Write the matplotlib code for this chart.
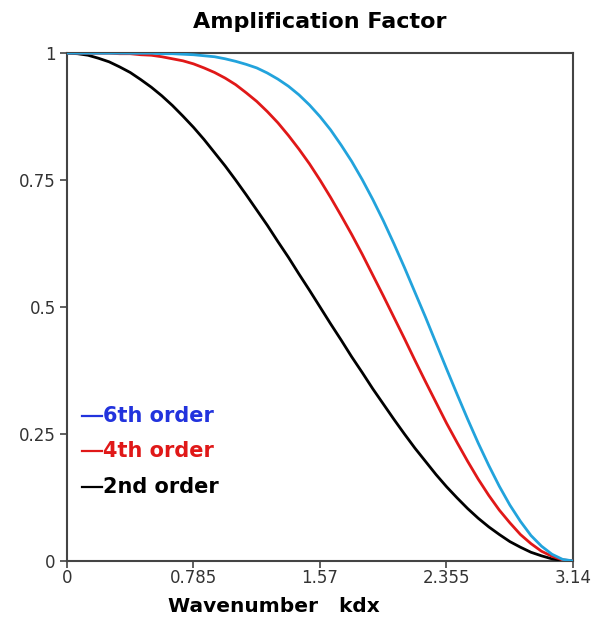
import matplotlib
matplotlib.use('Agg')
import matplotlib.pyplot as plt

# wavenumber samples (k*dx), 0 .. pi in pi/48 steps
kdx = [0.0, 0.0654, 0.1309, 0.1963, 0.2618, 0.3272, 0.3927, 0.4581, 0.5236,
       0.5890, 0.6545, 0.7199, 0.7854, 0.8508, 0.9163, 0.9817, 1.0472,
       1.1126, 1.1781, 1.2435, 1.3090, 1.3744, 1.4399, 1.5053, 1.5708,
       1.6362, 1.7017, 1.7671, 1.8326, 1.8980, 1.9635, 2.0289, 2.0944,
       2.1598, 2.2253, 2.2907, 2.3562, 2.4216, 2.4871, 2.5525, 2.6180,
       2.6834, 2.7489, 2.8143, 2.8798, 2.9452, 3.0107, 3.0761, 3.1416]

# amplification factor
order2 = [1.0, 0.999, 0.996, 0.990, 0.983, 0.973, 0.962, 0.948, 0.933, 0.916,
          0.897, 0.876, 0.854, 0.830, 0.804, 0.778, 0.75, 0.721, 0.691, 0.661,
          0.629, 0.598, 0.565, 0.533, 0.5, 0.467, 0.435, 0.402, 0.371, 0.339,
          0.309, 0.279, 0.25, 0.222, 0.196, 0.170, 0.146, 0.124, 0.103, 0.084,
          0.067, 0.052, 0.038, 0.027, 0.017, 0.010, 0.004, 0.001, 0.0]
order4 = [1.0, 1.0, 1.0, 1.0, 1.0, 0.999, 0.999, 0.997, 0.996, 0.993,
          0.989, 0.985, 0.979, 0.971, 0.962, 0.951, 0.938, 0.922, 0.905, 0.885,
          0.863, 0.838, 0.811, 0.782, 0.75, 0.716, 0.680, 0.643, 0.604, 0.563,
          0.522, 0.480, 0.438, 0.395, 0.353, 0.312, 0.271, 0.233, 0.196, 0.161,
          0.129, 0.100, 0.075, 0.052, 0.034, 0.019, 0.009, 0.002, 0.0]
order6 = [1.0, 1.0, 1.0, 1.0, 1.0, 1.0, 1.0, 1.0, 1.0, 0.999,
          0.999, 0.998, 0.997, 0.995, 0.993, 0.989, 0.984, 0.978, 0.971, 0.961,
          0.949, 0.935, 0.918, 0.898, 0.875, 0.849, 0.819, 0.787, 0.751, 0.712,
          0.670, 0.625, 0.578, 0.529, 0.480, 0.429, 0.378, 0.328, 0.279, 0.232,
          0.188, 0.147, 0.110, 0.078, 0.050, 0.029, 0.013, 0.003, 0.0]

xticks = [0, 0.785, 1.57, 2.355, 3.14]
xticklabels = ['0', '0.785', '1.57', '2.355', '3.14']
yticks = [0, 0.25, 0.5, 0.75, 1]
yticklabels = ['0', '0.25', '0.5', '0.75', '1']

fig = plt.figure(figsize=(5.98, 6.26), dpi=100)
ax = fig.add_axes([0.112, 0.104, 0.846, 0.811])

ax.plot(kdx, order2, color='black', lw=2.0, zorder=3)
ax.plot(kdx, order4, color='#e01818', lw=2.0, zorder=3)
ax.plot(kdx, order6, color='#22a3dc', lw=2.0, zorder=3)

ax.set_xlim(0, 3.14)
ax.set_ylim(0, 1)
ax.set_xticks(xticks)
ax.set_xticklabels(xticklabels)
ax.set_yticks(yticks)
ax.set_yticklabels(yticklabels)
ax.tick_params(direction='out', length=5, width=1.2, colors='#444444',
               labelsize=12, labelcolor='#333333')
ax.tick_params(axis='x', pad=1)
ax.tick_params(axis='y', pad=3)
for sp in ax.spines.values():
    sp.set_color('#444444')
    sp.set_linewidth(1.5)

ax.set_title('Amplification Factor', fontsize=16, fontweight='bold', pad=18)
ax.set_xlabel('Wavenumber   kdx', fontsize=14.5, fontweight='bold')
ax.xaxis.set_label_coords(0.409, -0.071)

# hand-drawn legend like the original
legend_items = [('6th order', '#2233dd', 0.285),
                ('4th order', '#e01818', 0.2165),
                ('2nd order', 'black', 0.146)]
for label, col, yy in legend_items:
    ax.plot([0.030, 0.069], [yy, yy], color=col, lw=1.6,
            transform=ax.transAxes, clip_on=False)
    ax.text(0.071, yy, label, color=col, fontsize=15, fontweight='bold',
            transform=ax.transAxes, va='center', ha='left')

fig.savefig('out.png', dpi=100)
